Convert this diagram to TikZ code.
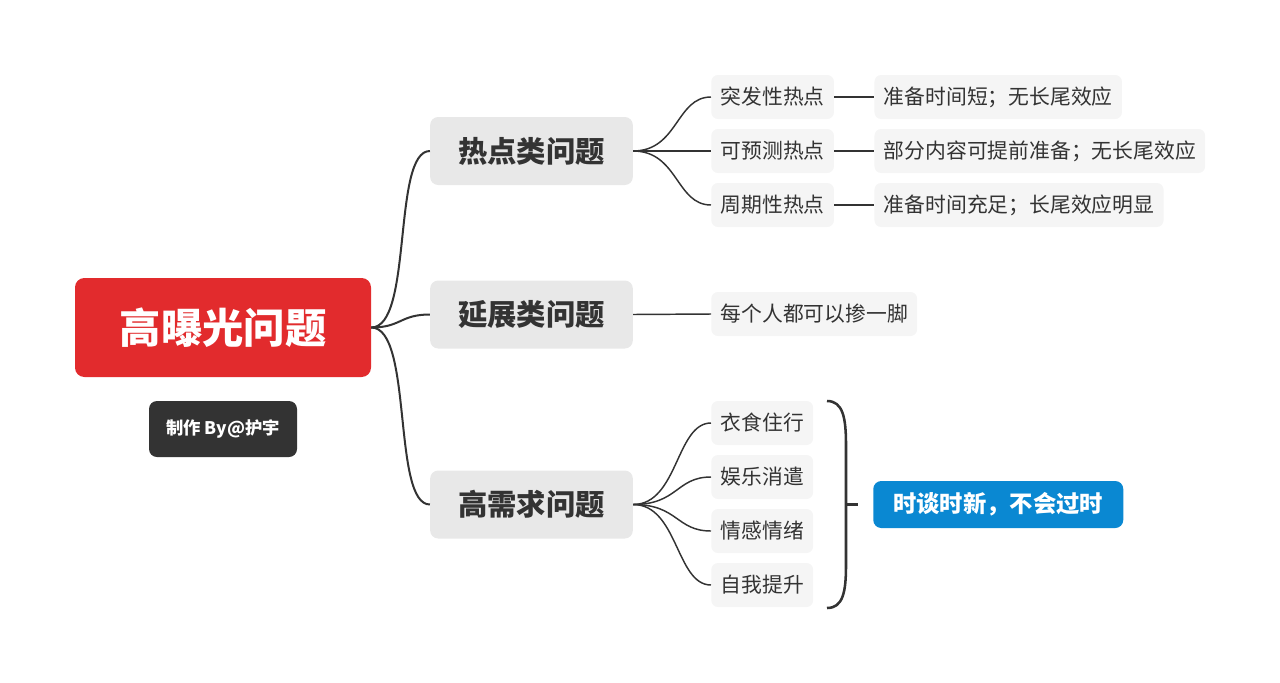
\documentclass[tikz,border=0pt]{standalone}
\usepackage{fontspec}
\setmainfont{Noto Sans CJK SC}
\usepackage{tikz}
\usetikzlibrary{positioning}
\definecolor{rootred}{HTML}{E22B2D}
\definecolor{credgray}{HTML}{333333}
\definecolor{ink}{HTML}{333333}
\definecolor{lvone}{HTML}{E8E8E8}
\definecolor{lvtwo}{HTML}{F5F5F5}
\definecolor{tagblue}{HTML}{0A88D2}
\begin{document}
\begin{tikzpicture}[
  x=0.75pt,y=-0.75pt,
  box/.style={rounded corners=6pt,align=center,text=ink,inner ysep=0pt},
  rootbox/.style={box,fill=rootred,text=white,font=\fontsize{31}{36}\selectfont\bfseries,minimum height=74.25pt,inner xsep=33.5pt,rounded corners=7pt},
  credit/.style={box,fill=credgray,text=white,font=\fontsize{13}{15}\selectfont\bfseries,minimum width=111pt,minimum height=42pt},
  topic/.style={box,fill=lvone,font=\fontsize{22}{26}\selectfont\bfseries,minimum height=51pt,inner xsep=21pt},
  leaf/.style={box,fill=lvtwo,font=\fontsize{15.6}{18}\selectfont,minimum height=33pt,inner xsep=7pt,rounded corners=5pt},
  tag/.style={box,fill=tagblue,text=white,font=\fontsize{17.5}{20}\selectfont\bfseries,minimum height=35.25pt,inner xsep=15pt},
  link/.style={draw=ink,line width=1.5pt},
  twig/.style={draw=ink,line width=1.1pt}]
\useasboundingbox (0,0) rectangle (1280,682);
\node[rootbox] (root) at (223,327.5) {高曝光问题};
\node[credit] (by) at (223,429) {制作 By@护宇};
\node[topic] (hot) at (531.5,151) {热点类问题};
\node[topic] (ext) at (531.5,314.5) {延展类问题};
\node[topic] (need) at (531.5,504.5) {高需求问题};
\node[leaf,anchor=west] (sud) at (711,97) {突发性热点};
\node[leaf,anchor=west] (pre) at (711,151) {可预测热点};
\node[leaf,anchor=west] (per) at (711,205) {周期性热点};
\node[leaf,right=30pt of sud] (sudd) {准备时间短；无长尾效应};
\node[leaf,right=30pt of pre] (pred) {部分内容可提前准备；无长尾效应};
\node[leaf,right=30pt of per] (perd) {准备时间充足；长尾效应明显};
\node[leaf,anchor=west] (all) at (711,314) {每个人都可以掺一脚};
\node[leaf,anchor=west] (food) at (711,423) {衣食住行};
\node[leaf,anchor=west] (fun) at (711,477) {娱乐消遣};
\node[leaf,anchor=west] (emo) at (711,531) {情感情绪};
\node[leaf,anchor=west] (self) at (711,585) {自我提升};
\node[tag,anchor=west] (new) at (873,504.5) {时谈时新，不会过时};
\coordinate (bt) at (827,401);
\coordinate (bb) at (827,608);
\coordinate (bm) at (845,504.5);
\coordinate (btip) at (858,504.5);
\draw[link] (root.east) .. controls +(42,0) and +(-38,0) .. (hot.west);
\draw[link] (root.east) .. controls +(30,0) and +(-30,0) .. (ext.west);
\draw[link] (root.east) .. controls +(42,0) and +(-38,0) .. (need.west);
\draw[twig] (hot.east) .. controls +(45,0) and +(-35,0) .. (sud.west);
\draw[twig] (hot.east) -- (pre.west);
\draw[twig] (hot.east) .. controls +(45,0) and +(-35,0) .. (per.west);
\draw[twig] (sud) -- (sudd);
\draw[twig] (pre) -- (pred);
\draw[twig] (per) -- (perd);
\draw[twig] (ext.east) -- (all.west);
\draw[twig] (need.east) .. controls +(45,0) and +(-35,0) .. (food.west);
\draw[twig] (need.east) .. controls +(45,0) and +(-35,0) .. (fun.west);
\draw[twig] (need.east) .. controls +(45,0) and +(-35,0) .. (emo.west);
\draw[twig] (need.east) .. controls +(45,0) and +(-35,0) .. (self.west);
\draw[draw=ink,line width=1.9pt] (bt) .. controls (843,401) and (846,418) .. (846,445) -- (846,565) .. controls (846,592) and (843,608) .. (bb);
\draw[draw=ink,line width=1.9pt] (bm) -- (btip);
\end{tikzpicture}
\end{document}
